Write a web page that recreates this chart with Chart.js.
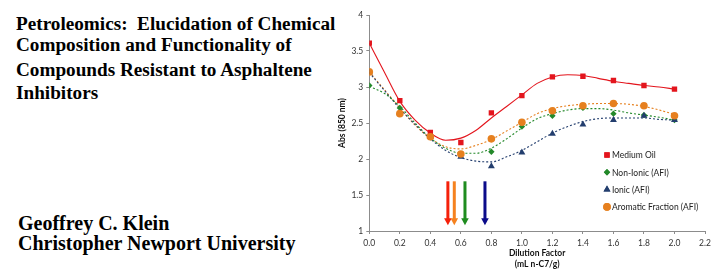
<!DOCTYPE html>
<html>
<head>
<meta charset="utf-8">
<script src="https://cdn.jsdelivr.net/npm/chart.js@4.4.1/dist/chart.umd.min.js"></script>
<style>
  html, body { margin: 0; padding: 0; background: #fff; }
  body { width: 720px; height: 270px; position: relative; overflow: hidden; }
  .line {
    position: absolute; white-space: pre; color: #000;
    font-family: "Liberation Serif", "Times New Roman", serif;
    font-weight: bold; line-height: 20px;
  }
  .t { left: 16px; font-size: 19.2px; }
  .a { left: 18px; font-size: 20px; }
  #wrap { position: absolute; left: 330px; top: 0; width: 390px; height: 270px; }
</style>
</head>
<body>
<div class="line t" style="top:13.5px">Petroleomics:  Elucidation of Chemical</div>
<div class="line t" style="top:35.2px">Composition and Functionality of</div>
<div class="line t" style="top:59.5px">Compounds Resistant to Asphaltene</div>
<div class="line t" style="top:82.5px">Inhibitors</div>
<div class="line a" style="top:212.5px">Geoffrey C. Klein</div>
<div class="line a" style="top:233.3px">Christopher Newport University</div>
<div id="wrap"><canvas id="chart" width="390" height="270"></canvas></div>

<script>
// measured points
const dilution = [0.0, 0.2, 0.4, 0.6, 0.8, 1.0, 1.2, 1.4, 1.6, 1.8, 2.0];
const mediumOil = [3.61, 2.81, 2.37, 2.23, 2.64, 2.88, 3.14, 3.15, 3.09, 3.02, 2.97];
const nonIonic = [3.02, 2.71, 2.30, 2.06, 2.10, 2.45, 2.60, 2.71, 2.63, 2.61, 2.54];
const ionic = [3.20, 2.64, 2.31, 2.03, 1.90, 2.09, 2.35, 2.48, 2.54, 2.60, 2.54];
const aromatic = [3.21, 2.63, 2.31, 2.07, 2.28, 2.51, 2.67, 2.74, 2.77, 2.74, 2.60];

// trend curves, every 0.1
const trendX = [0.0, 0.1, 0.2, 0.3, 0.4, 0.5, 0.6, 0.7, 0.8, 0.9, 1.0,
                1.1, 1.2, 1.3, 1.4, 1.5, 1.6, 1.7, 1.8, 1.9, 2.0];
const mediumOilTrend = [3.61, 3.20, 2.80, 2.54, 2.36, 2.26, 2.29, 2.40, 2.57, 2.73, 2.89,
                        3.05, 3.14, 3.17, 3.16, 3.12, 3.08, 3.05, 3.02, 3.00, 2.97];
const nonIonicTrend = [3.01, 2.91, 2.73, 2.50, 2.29, 2.15, 2.08, 2.08, 2.15, 2.28, 2.43,
                       2.56, 2.63, 2.68, 2.70, 2.70, 2.68, 2.64, 2.61, 2.58, 2.54];
const ionicTrend = [3.20, 2.95, 2.70, 2.48, 2.28, 2.12, 2.02, 1.97, 1.96, 2.03, 2.12,
                    2.24, 2.36, 2.45, 2.52, 2.56, 2.57, 2.57, 2.57, 2.55, 2.54];
const aromaticTrend = [3.21, 2.96, 2.71, 2.47, 2.29, 2.17, 2.14, 2.19, 2.27, 2.39, 2.51,
                       2.63, 2.70, 2.74, 2.76, 2.77, 2.77, 2.76, 2.73, 2.68, 2.62];

const seriesNames = ['Medium Oil', 'Non-Ionic (AFI)', 'Ionic (AFI)', 'Aromatic Fraction (AFI)'];
const seriesColors = ['#e3151d', '#23892a', '#233e6e', '#e6801f'];

// onset arrows
const arrowX = [0.515, 0.557, 0.627, 0.758];
const arrowColors = ['#f5200a', '#f5821f', '#1f8c1f', '#0b0b8a'];
const arrowTop = 1.69;
const arrowTip = 1.08;

const xTicks = [0.0, 0.2, 0.4, 0.6, 0.8, 1.0, 1.2, 1.4, 1.6, 1.8, 2.0, 2.2];

const pts = (xs, ys) => xs.map((x, i) => ({ x: x, y: ys[i] }));

const markerSets = [
  { label: seriesNames[0], data: pts(dilution, mediumOil), pointStyle: 'rect', pointRadius: 3.8, color: seriesColors[0], order: 3 },
  { label: seriesNames[1], data: pts(dilution, nonIonic), pointStyle: 'rectRot', pointRadius: 3.2, color: seriesColors[1], order: 2 },
  { label: seriesNames[2], data: pts(dilution, ionic), pointStyle: 'triangle', pointRadius: 4, color: seriesColors[2], order: 1 },
  { label: seriesNames[3], data: pts(dilution, aromatic), pointStyle: 'circle', pointRadius: 3.8, color: seriesColors[3], order: 0 }
];

const trendSets = [
  { data: pts(trendX, mediumOilTrend), color: seriesColors[0], dash: [] },
  { data: pts(trendX, nonIonicTrend), color: seriesColors[1], dash: [2, 2] },
  { data: pts(trendX, ionicTrend), color: seriesColors[2], dash: [2, 2] },
  { data: pts(trendX, aromaticTrend), color: seriesColors[3], dash: [2, 2] }
];

const datasets = [];
markerSets.forEach(s => {
  datasets.push({
    label: s.label, data: s.data, showLine: false,
    pointStyle: s.pointStyle, pointRadius: s.pointRadius,
    backgroundColor: s.color, borderColor: s.color, borderWidth: 0,
    order: s.order, isMarker: true
  });
});
trendSets.forEach((s, i) => {
  datasets.push({
    label: 'trend' + i, data: s.data, showLine: true,
    pointRadius: 0, borderColor: s.color, borderWidth: 1.1,
    borderDash: s.dash, tension: 0.4, cubicInterpolationMode: 'monotone',
    order: 10 + i
  });
});

const arrowPlugin = {
  id: 'arrows',
  afterDatasetsDraw(chart) {
    const ctx = chart.ctx;
    const xs = chart.scales.x, ys = chart.scales.y;
    const y0 = ys.getPixelForValue(arrowTop);
    const y1 = ys.getPixelForValue(arrowTip);
    arrowX.forEach((v, i) => {
      const x = xs.getPixelForValue(v);
      ctx.save();
      ctx.fillStyle = arrowColors[i];
      ctx.fillRect(x - 1.5, y0, 3, y1 - y0 - 6);
      ctx.beginPath();
      ctx.moveTo(x - 3.8, y1 - 7);
      ctx.lineTo(x + 3.8, y1 - 7);
      ctx.lineTo(x, y1);
      ctx.closePath();
      ctx.fill();
      ctx.restore();
    });
  }
};

const legendPlugin = {
  id: 'insideLegend',
  afterDraw(chart) {
    const ctx = chart.ctx;
    const x0 = 277, yStart = 155, step = 17.3;
    chart.data.datasets.filter(d => d.isMarker).forEach((d, i) => {
      const y = yStart + i * step;
      ctx.save();
      ctx.fillStyle = d.backgroundColor;
      Chart.helpers.drawPoint(ctx, { pointStyle: d.pointStyle, radius: d.pointRadius, rotation: 0, borderWidth: 0 }, x0, y);
      ctx.fill();
      ctx.fillStyle = '#222';
      ctx.font = '8.5px Lato, "Open Sans", sans-serif';
      ctx.textBaseline = 'middle';
      ctx.fillText(d.label, x0 + 5, y + 0.5);
      ctx.restore();
    });
  }
};

new Chart(document.getElementById('chart'), {
  type: 'scatter',
  data: { datasets: datasets },
  plugins: [arrowPlugin, legendPlugin],
  options: {
    responsive: false,
    animation: false,
    layout: { padding: { top: 15, right: 15, left: 0, bottom: 0 } },
    plugins: { legend: { display: false }, tooltip: { enabled: false } },
    scales: {
      x: {
        type: 'linear', min: 0, max: 2.2,
        afterBuildTicks: axis => { axis.ticks = xTicks.map(v => ({ value: v })); },
        afterFit: axis => { axis.height = 39; },
        border: { color: '#8c8c8c', width: 1 },
        grid: { drawOnChartArea: false, drawTicks: true, tickLength: 3, color: '#8c8c8c' },
        ticks: {
          color: '#333', padding: 4, maxRotation: 0,
          font: { family: 'Lato, "Open Sans", sans-serif', size: 8.5 },
          callback: v => Number(v).toFixed(1)
        },
        title: {
          display: true, text: ['Dilution Factor', '(mL n-C7/g)'], color: '#111',
          font: { family: 'Lato, "Open Sans", sans-serif', size: 8.5, weight: 'bold', lineHeight: 1.3 },
          padding: { top: 1, bottom: 0 }
        }
      },
      y: {
        min: 1, max: 4,
        ticks: {
          stepSize: 0.5, color: '#333', padding: 3,
          font: { family: 'Lato, "Open Sans", sans-serif', size: 8.5 },
          callback: v => String(Number(v))
        },
        afterFit: axis => { axis.width = 39.3; },
        border: { color: '#8c8c8c', width: 1 },
        grid: { drawOnChartArea: false, drawTicks: true, tickLength: 3, color: '#8c8c8c' },
        title: {
          display: true, text: 'Abs (850 nm)', color: '#111',
          font: { family: 'Lato, "Open Sans", sans-serif', size: 8.5, weight: 'bold' },
          padding: { top: 7, bottom: 0 }
        }
      }
    }
  }
});
</script>
</body>
</html>
